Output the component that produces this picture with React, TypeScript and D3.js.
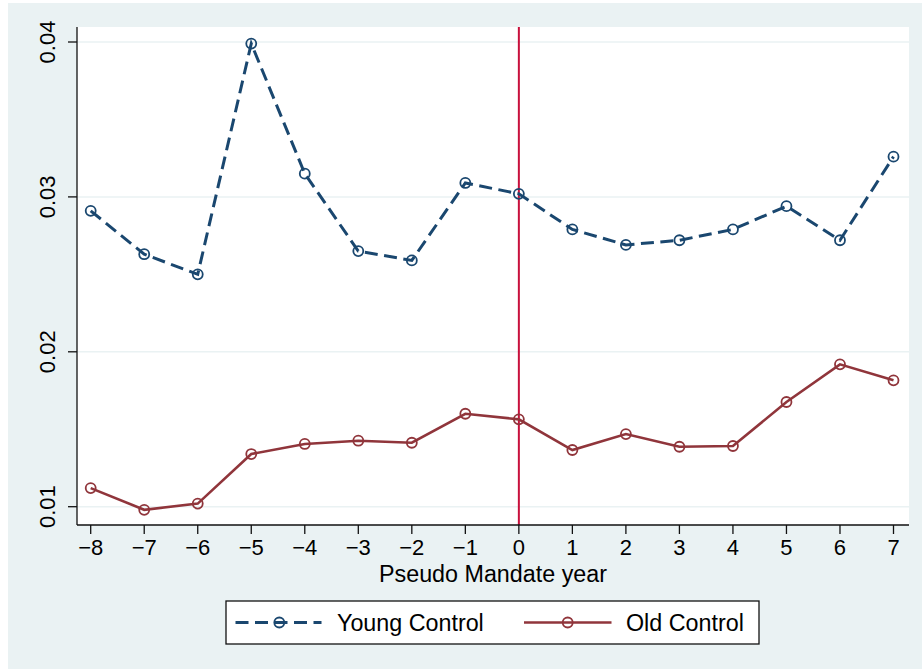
import React from "react";
import * as d3 from "d3";

const years = [-8, -7, -6, -5, -4, -3, -2, -1, 0, 1, 2, 3, 4, 5, 6, 7];
const youngControl = [0.0291, 0.0263, 0.0250, 0.0399, 0.0315, 0.0265, 0.0259, 0.0309, 0.0302, 0.0279, 0.0269, 0.0272, 0.0279, 0.0294, 0.0272, 0.0326];
const oldControl = [0.0112, 0.0098, 0.0102, 0.0134, 0.01405, 0.01426, 0.01413, 0.0160, 0.01564, 0.01366, 0.01469, 0.01387, 0.01392, 0.01676, 0.01919, 0.01816];
const yTicks = [0.01, 0.02, 0.03, 0.04];
const yTickLabels = ["0.01", "0.02", "0.03", "0.04"];
const xTitle = "Pseudo Mandate year";
const seriesNames = ["Young Control", "Old Control"];

const W = 922, H = 670;
const plot = { left: 77, right: 909, top: 27, bottom: 525 };
const BLUE = "#1a476f";
const RED = "#90353b";
const FONT = "'Liberation Sans', Arial, Helvetica, sans-serif";
const DASH = "13,6.5";

export default function App() {
  const x = d3.scaleLinear().domain([-8, 7]).range([90.7, 893.5]);
  const y = d3.scaleLinear().domain([0.01, 0.04]).range([506.7, 42]);
  const line = d3.line<number>().x((_, i) => x(years[i])).y((d) => y(d));
  const fmtMinus = (v: number) => (v < 0 ? "\u2212" + Math.abs(v) : String(v));

  return (
    <svg width={W} height={H} style={{ position: "absolute", left: 0, top: 0 }} fontFamily={FONT}>
      <rect x={0} y={0} width={W} height={H} fill="#ffffff" />
      <rect x={8} y={3} width={W - 8} height={H - 4} fill="#eaf2f3" />
      <rect x={plot.left} y={plot.top} width={plot.right - plot.left} height={plot.bottom - plot.top} fill="#ffffff" />
      {yTicks.map((t) => (
        <line key={"g" + t} x1={plot.left} x2={plot.right} y1={y(t)} y2={y(t)} stroke="#eaf2f3" strokeWidth={1.5} />
      ))}
      <line x1={x(0)} x2={x(0)} y1={plot.top} y2={plot.bottom} stroke="#c8103c" strokeWidth={2} />
      {/* axes */}
      <line x1={plot.left} x2={plot.left} y1={plot.top} y2={plot.bottom} stroke="#111" strokeWidth={1.3} />
      <line x1={plot.left} x2={plot.right} y1={plot.bottom} y2={plot.bottom} stroke="#111" strokeWidth={1.3} />
      {yTicks.map((t, i) => (
        <g key={"yt" + t}>
          <line x1={plot.left - 9} x2={plot.left} y1={y(t)} y2={y(t)} stroke="#111" strokeWidth={1.3} />
          <text transform={`translate(55,${y(t)}) rotate(-90)`} textAnchor="middle" fontSize={22} fill="#000">
            {yTickLabels[i]}
          </text>
        </g>
      ))}
      {years.map((v) => (
        <g key={"xt" + v}>
          <line x1={x(v)} x2={x(v)} y1={plot.bottom} y2={plot.bottom + 9} stroke="#111" strokeWidth={1.3} />
          <text x={x(v)} y={555} textAnchor="middle" fontSize={22} fill="#000">
            {fmtMinus(v)}
          </text>
        </g>
      ))}
      <text x={(plot.left + plot.right) / 2} y={582} textAnchor="middle" fontSize={23.3} fill="#000">
        {xTitle}
      </text>
      {/* series */}
      <path d={line(youngControl) || ""} fill="none" stroke={BLUE} strokeWidth={3} strokeDasharray={DASH} />
      {youngControl.map((v, i) => (
        <circle key={"yc" + i} cx={x(years[i])} cy={y(v)} r={5} fill="none" stroke={BLUE} strokeWidth={1.8} />
      ))}
      <path d={line(oldControl) || ""} fill="none" stroke={RED} strokeWidth={2.6} />
      {oldControl.map((v, i) => (
        <circle key={"oc" + i} cx={x(years[i])} cy={y(v)} r={5} fill="none" stroke={RED} strokeWidth={1.8} />
      ))}
      {/* legend */}
      <rect x={226} y={601} width={533} height={43} fill="#ffffff" stroke="#111" strokeWidth={1.3} />
      <line x1={235.5} x2={321.5} y1={622.5} y2={622.5} stroke={BLUE} strokeWidth={3} strokeDasharray={DASH} />
      <circle cx={279.3} cy={622.5} r={5} fill="none" stroke={BLUE} strokeWidth={1.8} />
      <text x={337} y={630.5} fontSize={23.3} fill="#000">{seriesNames[0]}</text>
      <line x1={524} x2={611.5} y1={622.5} y2={622.5} stroke={RED} strokeWidth={2.6} />
      <circle cx={567.7} cy={622.5} r={5} fill="none" stroke={RED} strokeWidth={1.8} />
      <text x={626} y={630.5} fontSize={23.3} fill="#000">{seriesNames[1]}</text>
    </svg>
  );
}
